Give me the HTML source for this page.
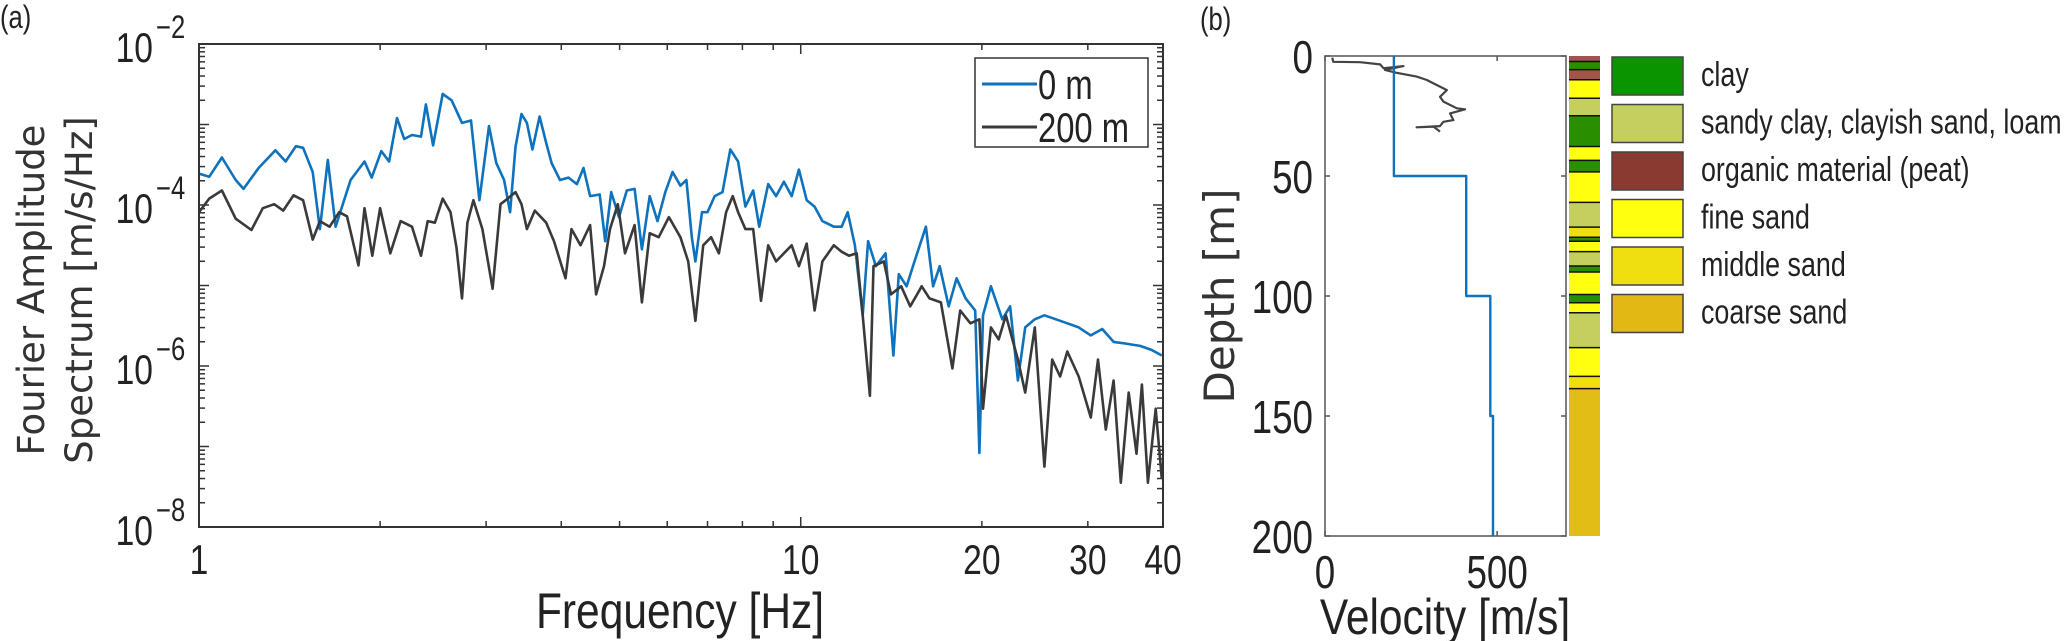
<!DOCTYPE html>
<html><head><meta charset="utf-8">
<style>
html,body{margin:0;padding:0;background:#fff;}
svg{display:block;}
text{font-family:"Liberation Sans",sans-serif;fill:#222;}
.ttl{font-family:"DejaVu Sans","Liberation Sans",sans-serif;fill:#333;}
</style></head>
<body>
<svg id="fig" width="2067" height="641" viewBox="0 0 2067 641" xmlns="http://www.w3.org/2000/svg">
<text transform="translate(0,28) scale(0.8,1)" font-size="32">(a)</text>
<text transform="translate(1200,30) scale(0.8,1)" font-size="32">(b)</text>
<g id="pa"></g>
<g id="pb"></g>
</svg>
<script>
// ---------- Panel (a) data ----------
const blueLogF=[0.000,0.017,0.038,0.061,0.074,0.099,0.127,0.144,0.161,0.173,0.189,0.201,0.214,0.227,0.252,0.275,0.287,0.303,0.316,0.329,0.341,0.354,0.369,0.377,0.389,0.405,0.420,0.437,0.452,0.466,0.482,0.494,0.507,0.517,0.526,0.536,0.545,0.554,0.566,0.577,0.586,0.600,0.614,0.628,0.639,0.650,0.666,0.675,0.685,0.698,0.711,0.724,0.736,0.749,0.762,0.775,0.787,0.800,0.810,0.819,0.825,0.836,0.845,0.857,0.870,0.883,0.896,0.908,0.921,0.931,0.946,0.959,0.972,0.985,0.997,1.010,1.023,1.036,1.055,1.068,1.078,1.090,1.103,1.112,1.125,1.141,1.154,1.163,1.176,1.189,1.208,1.220,1.231,1.246,1.259,1.274,1.290,1.297,1.303,1.316,1.335,1.348,1.361,1.373,1.389,1.405,1.424,1.443,1.462,1.482,1.501,1.520,1.539,1.564,1.583,1.600];
const blueLogA=[-3.61,-3.65,-3.41,-3.69,-3.80,-3.54,-3.32,-3.46,-3.27,-3.29,-3.59,-4.30,-3.44,-4.27,-3.69,-3.46,-3.66,-3.33,-3.46,-2.92,-3.18,-3.13,-3.15,-2.75,-3.26,-2.62,-2.70,-2.98,-2.95,-3.94,-3.02,-3.48,-3.69,-4.09,-3.28,-2.87,-2.98,-3.31,-2.90,-3.23,-3.48,-3.69,-3.66,-3.74,-3.54,-3.89,-3.87,-4.45,-3.84,-4.15,-3.82,-3.80,-4.55,-3.89,-4.20,-3.84,-3.59,-3.76,-3.69,-4.40,-4.70,-4.09,-4.09,-3.89,-3.84,-3.31,-3.46,-4.02,-3.82,-4.27,-3.74,-3.89,-3.71,-3.89,-3.56,-3.94,-4.02,-4.20,-4.27,-4.27,-4.09,-4.50,-5.37,-4.45,-4.76,-4.60,-5.87,-4.86,-5.01,-4.70,-4.27,-5.01,-4.76,-5.26,-4.91,-5.16,-5.31,-7.08,-5.37,-5.01,-5.42,-5.26,-6.18,-5.52,-5.42,-5.37,-5.42,-5.47,-5.52,-5.62,-5.54,-5.70,-5.72,-5.75,-5.80,-5.87];
const grayLogF=[0.000,0.017,0.038,0.061,0.087,0.106,0.125,0.140,0.157,0.173,0.189,0.201,0.217,0.233,0.246,0.265,0.275,0.288,0.301,0.318,0.335,0.354,0.369,0.380,0.392,0.405,0.418,0.428,0.437,0.446,0.456,0.471,0.488,0.501,0.513,0.526,0.536,0.545,0.558,0.577,0.590,0.609,0.619,0.634,0.650,0.660,0.673,0.683,0.696,0.708,0.724,0.736,0.749,0.764,0.781,0.800,0.813,0.825,0.838,0.851,0.864,0.876,0.887,0.896,0.908,0.921,0.934,0.946,0.959,0.972,0.985,0.997,1.010,1.023,1.036,1.055,1.068,1.080,1.093,1.103,1.115,1.121,1.138,1.150,1.167,1.182,1.201,1.214,1.233,1.252,1.265,1.282,1.297,1.303,1.316,1.329,1.341,1.361,1.373,1.389,1.405,1.418,1.431,1.443,1.462,1.482,1.494,1.507,1.520,1.532,1.545,1.558,1.567,1.577,1.590,1.600];
const grayLogA=[-4.09,-3.92,-3.82,-4.17,-4.31,-4.04,-3.99,-4.07,-3.88,-3.94,-4.43,-4.20,-4.27,-4.09,-4.14,-4.75,-4.04,-4.63,-4.04,-4.60,-4.20,-4.27,-4.63,-4.20,-4.22,-3.92,-4.09,-4.53,-5.16,-4.22,-3.94,-4.30,-5.04,-3.99,-3.92,-3.84,-3.99,-4.30,-4.07,-4.22,-4.45,-4.91,-4.30,-4.50,-4.25,-5.11,-4.76,-4.30,-3.99,-4.60,-4.25,-5.21,-4.35,-4.40,-4.15,-4.40,-4.70,-5.44,-4.50,-4.40,-4.60,-4.09,-3.89,-4.09,-4.30,-4.30,-5.19,-4.50,-4.70,-4.60,-4.50,-4.76,-4.48,-5.31,-4.70,-4.50,-4.58,-4.63,-4.60,-5.37,-6.37,-4.76,-4.70,-5.11,-5.01,-5.26,-5.01,-5.16,-5.21,-6.03,-5.31,-5.47,-5.42,-6.53,-5.52,-5.67,-5.37,-5.92,-6.33,-5.52,-7.25,-5.92,-6.13,-5.82,-6.13,-6.64,-5.92,-6.79,-6.18,-7.45,-6.33,-7.09,-6.23,-7.45,-6.53,-7.40];
const xTickVals=[1,10,20,30,40];
const xTickLabels=["1","10","20","30","40"];
const yTickExps=[-2,-4,-6,-8];
const legendLabels=["0 m","200 m"];

// ---------- Panel (b) data ----------
const vsDepthSteps=[0,50,50,100,100,150,150,200];
const vsValues=[200,200,410,410,480,480,488,488];
const cptVel=[21,24,102,160,170,228,174,208,266,296,315,354,334,344,383,407,363,373,344,334,266,315,334];
const cptDepth=[0.7,2.4,2.6,3.5,5.1,4.2,5.8,7.0,8.6,10,11.4,14.2,17,19,21.8,22.2,23.9,26.7,27.4,29.2,29.7,29.4,31.5];
const depthTicks=[0,50,100,150,200];
const velTicks=[0,500];
const layerTop=[0,2.3,5.7,9.9,17.6,24.9,37.7,43.5,48.3,61,71.3,75.5,77.2,81.5,87.5,90,99.4,102.8,107,121.5,133.5,138.6];
const layerBot=[2.3,5.7,9.9,17.6,24.9,37.7,43.5,48.3,61,71.3,75.5,77.2,81.5,87.5,90,99.4,102.8,107,121.5,133.5,138.6,200];
const layerType=["organic","clay","organic","fine","sandy","clay","fine","clay","fine","sandy","middle","clay","fine","sandy","clay","fine","clay","fine","sandy","fine","middle","coarse"];
const soilNames=["clay","sandy clay, clayish sand, loam","organic material (peat)","fine sand","middle sand","coarse sand"];
const soilKeys=["clay","sandy","organic","fine","middle","coarse"];

const NS="http://www.w3.org/2000/svg";
function mk(tag,attrs,parent){const e=document.createElementNS(NS,tag);for(const k in attrs)e.setAttribute(k,attrs[k]);parent.appendChild(e);return e;}
function lab(x,y,txt,size,anchor,parent,sx){const t=mk('text',{transform:'translate('+x+','+y+') scale('+(sx||0.8)+',1)','font-size':size,'text-anchor':anchor},parent);t.textContent=txt;return t;}

// ---- Panel a ----
const pa=document.getElementById('pa');
const AX={l:199,r:1163,t:44,b:527};
const xLog=lf=>AX.l+lf/Math.log10(40)*(AX.r-AX.l);
const xA=f=>xLog(Math.log10(f));
const yA=la=>AX.t+(-2-la)/6*(AX.b-AX.t);
let r=mk('rect',{x:AX.l,y:AX.t,width:AX.r-AX.l,height:AX.b-AX.t,fill:'#fff',stroke:'none'},pa);


for(let d=0;d<2;d++)for(let m=1;m<10;m++){const f=m*Math.pow(10,d);if(f>40)break;const x=xA(f);const len=(m===1)?10:6;
 mk('line',{x1:x,y1:AX.b,x2:x,y2:AX.b-len,stroke:'#333','stroke-width':1.5},pa);mk('line',{x1:x,y1:AX.t,x2:x,y2:AX.t+len,stroke:'#333','stroke-width':1.5},pa);}
for(let e=-8;e<-2;e++)for(let m=1;m<10;m++){const y=yA(e+Math.log10(m));const len=(m===1)?10:6;
 mk('line',{x1:AX.l,y1:y,x2:AX.l+len,y2:y,stroke:'#333','stroke-width':1.5},pa);mk('line',{x1:AX.r,y1:y,x2:AX.r-len,y2:y,stroke:'#333','stroke-width':1.5},pa);}
function poly(xs,ys,fx,fy,color,name,parent){let d='';for(let i=0;i<xs.length;i++)d+=(i?'L':'M')+fx(xs[i]).toFixed(1)+','+fy(ys[i]).toFixed(1);
 const p=mk('path',{d:d,fill:'none',stroke:color,'stroke-width':2.6,'stroke-linejoin':'round'},parent);
 
 return p;}
poly(blueLogF,blueLogA,xLog,yA,'#0f72bd','series-0m',pa);
poly(grayLogF,grayLogA,xLog,yA,'#3a3a3a','series-200m',pa);
mk('rect',{x:AX.l,y:AX.t,width:AX.r-AX.l,height:AX.b-AX.t,fill:'none',stroke:'#333','stroke-width':2},pa);
xTickVals.forEach((v,i)=>{const t=lab(xA(v),574,xTickLabels[i],42,'middle',pa);
 
 });
yTickExps.forEach(e=>{const y=yA(e);const t=lab(153,y+18,'10',42,'end',pa);
 
 
 const s=lab(156,y-6,'\u2212'+(-e),32,'start',pa);
 
 });
let tt=lab(680,628,'Frequency [Hz]',50,'middle',pa,0.85);


let yt=mk('text',{transform:'translate(44,290) rotate(-90)','font-size':37,'text-anchor':'middle','class':'ttl'},pa);yt.textContent='Fourier Amplitude';


let yt2=mk('text',{transform:'translate(92,290) rotate(-90)','font-size':37,'text-anchor':'middle','class':'ttl'},pa);yt2.textContent='Spectrum [m/s/Hz]';


const lg=mk('g',{},pa);


mk('rect',{x:975,y:58,width:173,height:89,fill:'#fff',stroke:'#333','stroke-width':1.5},lg);
['#0f72bd','#3a3a3a'].forEach((c,i)=>{const y=84+i*43;mk('line',{x1:982,y1:y,x2:1037,y2:y,stroke:c,'stroke-width':3},lg);
 const t=lab(1038,y+15,legendLabels[i],42,'start',lg,0.78);
 
 });

// ---- Panel b ----
const pb=document.getElementById('pb');
const BX={l:1325,r:1566,t:56,b:536};
const xB=v=>BX.l+v/700*(BX.r-BX.l);
const yB=d=>BX.t+d/200*(BX.b-BX.t);
mk('rect',{x:BX.l,y:BX.t,width:BX.r-BX.l,height:BX.b-BX.t,fill:'#fff',stroke:'#555','stroke-width':1.5},pb);
depthTicks.forEach(d=>{const y=yB(d);mk('line',{x1:BX.l,y1:y,x2:BX.l+5,y2:y,stroke:'#555','stroke-width':1.5},pb);mk('line',{x1:BX.r,y1:y,x2:BX.r-5,y2:y,stroke:'#555','stroke-width':1.5},pb);
 const t=lab(1313,y+17,String(d),46,'end',pb);
 
 });
velTicks.forEach(v=>{const x=xB(v);mk('line',{x1:x,y1:BX.b,x2:x,y2:BX.b-5,stroke:'#555','stroke-width':1.5},pb);mk('line',{x1:x,y1:BX.t,x2:x,y2:BX.t+5,stroke:'#555','stroke-width':1.5},pb);
 const t=lab(x,588,String(v),46,'middle',pb);
 
 });
poly(cptVel,cptDepth,xB,yB,'#444','cpt-velocity-line',pb).setAttribute('stroke-width',2.2);
poly(vsValues,vsDepthSteps,xB,yB,'#0f72bd','vs-profile-line',pb).setAttribute('stroke-width',2.4);
let vt=lab(1445,634,'Velocity [m/s]',50,'middle',pb,0.85);


let dt=mk('text',{transform:'translate(1234,296) rotate(-90)','font-size':42,'text-anchor':'middle','class':'ttl'},pb);dt.textContent='Depth [m]';


const soilColor={clay:'#2a8f00',sandy:'#c4cf5f',organic:'#a0544a',fine:'#ffff10',middle:'#efde10',coarse:'#e2bd16'};
const legColor={clay:'#0a9400',sandy:'#c4cf5f',organic:'#8b3a32',fine:'#ffff10',middle:'#efdf10',coarse:'#e2b914'};
const col=mk('g',{},pb);


layerTop.forEach((d,i)=>{const y1=yB(d),y2=yB(layerBot[i]);
 const rr=mk('rect',{x:1569,y:y1,width:31,height:y2-y1,fill:soilColor[layerType[i]]},col);
 
 
 if(i>0)mk('line',{x1:1569,y1:y1,x2:1600,y2:y1,stroke:'#111','stroke-width':1.5},col);});
const sl=mk('g',{},pb);


soilNames.forEach((n,i)=>{const y=57+i*47.5;
 mk('rect',{x:1612,y:y,width:71,height:38,fill:legColor[soilKeys[i]],stroke:'#444','stroke-width':1.5},sl);
 const t=lab(1701,y+29,n,34,'start',sl,0.79);
 
 });
</script>
</body></html>
